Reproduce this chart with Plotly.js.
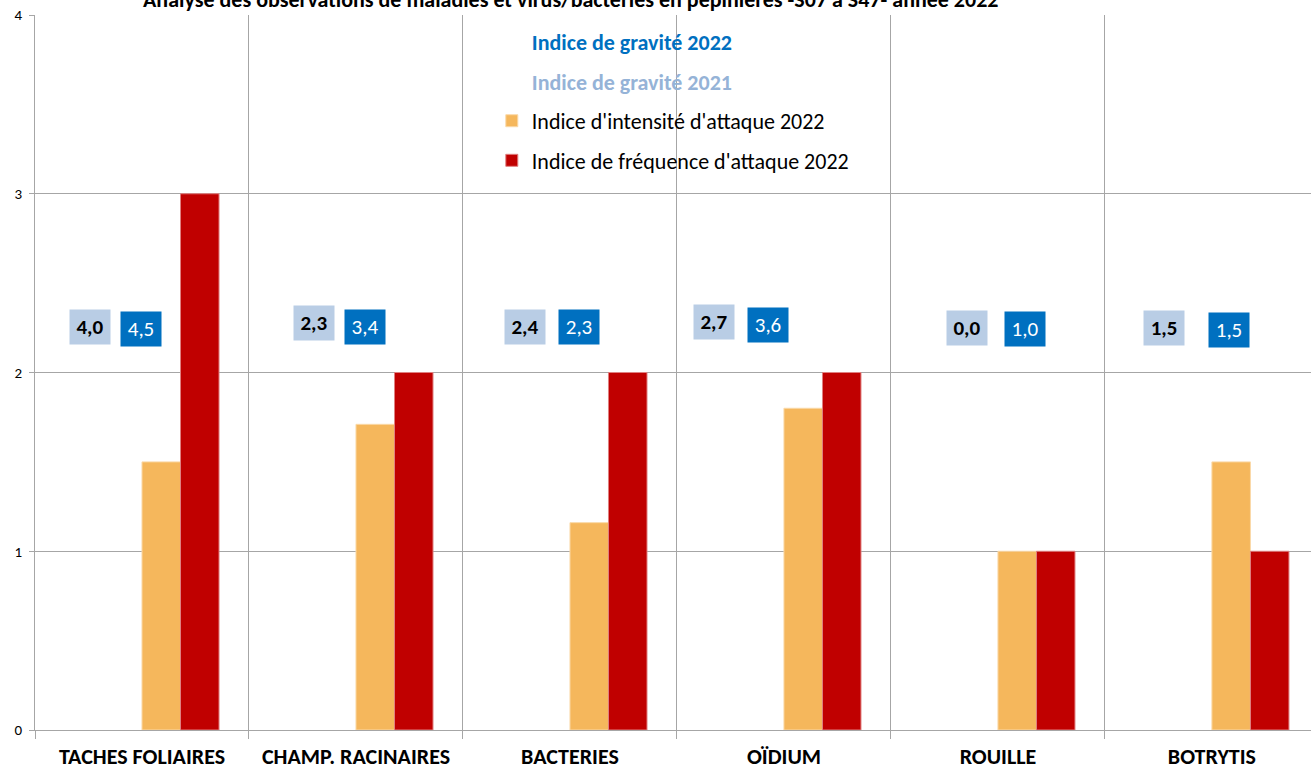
<!DOCTYPE html>
<html>
<head>
<meta charset="utf-8">
<script src="https://cdn.plot.ly/plotly-3.0.1.min.js"></script>
<style>
  html, body { margin: 0; padding: 0; background: #ffffff; }
  #chart { width: 1311px; height: 769px; }
</style>
</head>
<body>
<div id="chart"></div>
<script>
// Diseases observed in nurseries, weeks S07 to S47, 2022
const categories = ['TACHES FOLIAIRES', 'CHAMP. RACINAIRES', 'BACTERIES', 'OÏDIUM', 'ROUILLE', 'BOTRYTIS'];
const gravite2022 = [4.5, 3.4, 2.3, 3.6, 1.0, 1.5];
const gravite2021 = [4.0, 2.3, 2.4, 2.7, 0.0, 1.5];
const intensite2022 = [1.5, 1.71, 1.16, 1.8, 1.0, 1.5];
const frequence2022 = [3, 2, 2, 2, 1, 1];

const FONT = 'Carlito, Lato, "Open Sans", sans-serif';
const GRID = '#a6a6a6';

// Hand-placed offsets (px) of the severity labels around each category centre
const shift2021 = { x: [-52, -42, -45, -70, -31, -48], y: [1, 5, 1, 6, 0, 0] };
const shift2022 = { x: [-1, 9, 9.5, -16, 27, 17], y: [-1, 1, 1, 3, -1, -2] };
const labelLevel = 2.25;

const fmt = v => v.toFixed(1).replace('.', ',');

const traces = [
  {
    type: 'bar', x: categories, y: gravite2022,
    name: '<span style="color:#0070C0"><b>Indice de gravité 2022</b></span>',
    marker: { color: 'rgba(0,0,0,0)' }, legendgroup: 'g22', hoverinfo: 'skip'
  },
  {
    type: 'bar', x: categories, y: gravite2021,
    name: '<span style="color:#95B3D7"><b>Indice de gravité 2021</b></span>',
    marker: { color: 'rgba(0,0,0,0)' }, legendgroup: 'g21', hoverinfo: 'skip'
  },
  {
    type: 'bar', x: categories, y: intensite2022,
    name: "Indice d'intensité d'attaque 2022",
    marker: { color: '#F5B75C', line: { color: '#FAD9A8', width: 1 } }, legendgroup: 'int'
  },
  {
    type: 'bar', x: categories, y: frequence2022,
    name: "Indice de fréquence d'attaque 2022",
    marker: { color: '#C00000', line: { color: '#E08080', width: 1 } }, legendgroup: 'freq'
  }
];

const annotations = [];
categories.forEach((c, i) => {
  annotations.push({
    x: c, y: labelLevel, xref: 'x', yref: 'y',
    text: '<b>' + fmt(gravite2021[i]) + '</b>', showarrow: false,
    xshift: shift2021.x[i], yshift: shift2021.y[i],
    bgcolor: '#B9CDE5', width: 38, height: 32,
    font: { family: FONT, size: 21, color: '#000000' }
  });
  annotations.push({
    x: c, y: labelLevel, xref: 'x', yref: 'y',
    text: fmt(gravite2022[i]), showarrow: false,
    xshift: shift2022.x[i], yshift: shift2022.y[i],
    bgcolor: '#0070C0', width: 38, height: 32,
    font: { family: FONT, size: 21, color: '#ffffff' }
  });
});
annotations.push({
  xref: 'paper', yref: 'paper', x: 0.42, y: 1, xanchor: 'center', yanchor: 'bottom',
  yshift: 0, showarrow: false,
  text: '<b>Analyse des observations de maladies et virus/bactéries en pépinières -S07 à S47- année 2022</b>',
  font: { family: FONT, size: 22, color: '#000000' }
});

const layout = {
  width: 1311, height: 769,
  margin: { l: 35, r: 0, t: 15, b: 39, pad: 0 },
  paper_bgcolor: '#ffffff', plot_bgcolor: '#ffffff',
  barmode: 'group', bargap: 0.28, bargroupgap: 0,
  showlegend: true,
  legend: {
    x: 0.358, y: 0.992, xanchor: 'left', yanchor: 'top',
    bgcolor: 'rgba(255,255,255,0)', borderwidth: 0,
    traceorder: 'grouped', tracegroupgap: 8,
    font: { family: FONT, size: 22, color: '#000000' }
  },
  xaxis: {
    type: 'category', range: [-0.5, 5.463],
    tickson: 'boundaries', ticks: 'outside', ticklen: 8, tickcolor: GRID,
    showgrid: true, gridcolor: GRID, gridwidth: 1,
    showline: true, linecolor: GRID, linewidth: 1,
    tickfont: { family: FONT, size: 22, color: '#000000', weight: 'bold' },
    ticklabelstandoff: 7,
    fixedrange: true
  },
  yaxis: {
    range: [0, 4], dtick: 1, tick0: 0,
    ticks: 'outside', ticklen: 5, tickcolor: GRID,
    showgrid: true, gridcolor: GRID, gridwidth: 1,
    showline: true, linecolor: GRID, linewidth: 1,
    zeroline: false,
    tickfont: { family: FONT, size: 15, color: '#000000' },
    ticklabelstandoff: 4,
    fixedrange: true
  },
  shapes: [
    {
      type: 'rect', xref: 'paper', yref: 'paper', layer: 'between',
      x0: 0.2, x1: 0.8, y0: 0.7555, y1: 0.99,
      fillcolor: '#ffffff', line: { width: 0 }
    }
  ],
  annotations: annotations
};

Plotly.newPlot('chart', traces, layout, { displayModeBar: false, staticPlot: true });
</script>
</body>
</html>
